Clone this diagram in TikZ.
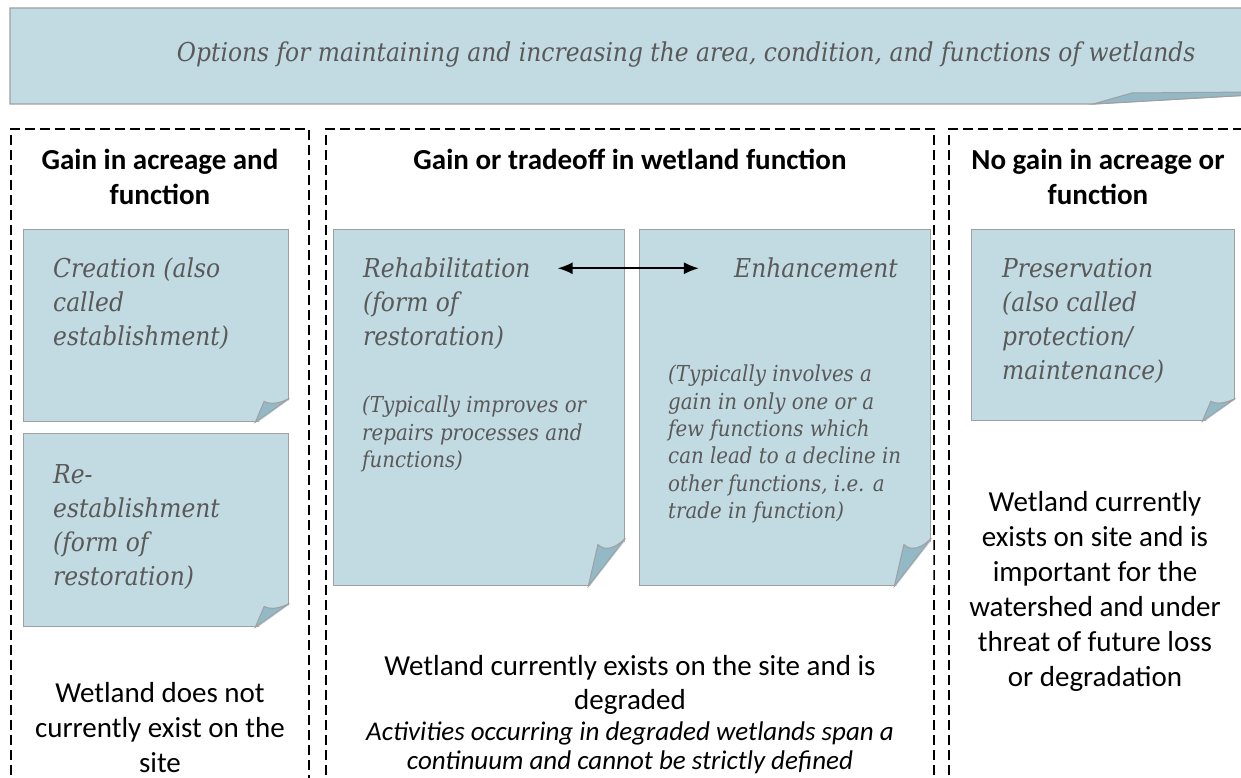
\documentclass[tikz,border=0pt]{standalone}
\usepackage{fontspec}
\setmainfont{Carlito}
\newfontfamily\notefont{DejaVuSerifCondensed-Italic.ttf}
\usetikzlibrary{arrows.meta}
\usetikzlibrary{calc}
\usetikzlibrary{positioning}

\definecolor{noteblue}{RGB}{194,218,225}
\definecolor{flapblue}{RGB}{147,185,198}
\definecolor{edgegray}{RGB}{160,160,160}
\definecolor{notetext}{RGB}{89,89,89}

\tikzset{
  note/.style={draw=edgegray, fill=noteblue, line width=1.3pt, anchor=north west, inner sep=0pt},
  notetitle/.style={anchor=north west, inner sep=0pt, align=left, text=notetext, font=\notefont\fontsize{26}{34}\selectfont},
  notesmall/.style={anchor=north west, inner sep=0pt, align=left, text=notetext, font=\notefont\fontsize{22}{27.3}\selectfont},
  heading/.style={anchor=north, inner sep=0pt, align=center, font=\bfseries\fontsize{29}{35}\selectfont},
  status/.style={anchor=north, inner sep=0pt, align=center, font=\fontsize{29}{35}\selectfont},
  group/.style={draw=black, line width=2pt, dash pattern=on 10pt off 5pt},
}

% turned-up lower right corner of a note: node, fold width, fold height
\newcommand{\curl}[3]{%
  \fill[white] ($(#1.south east)+(2,2)$) -- ($(#1.south east)+(2,-#3)$) -- ($(#1.south east)+(-#2,2)$) -- cycle;
  \filldraw[fill=flapblue, draw=edgegray, line width=1pt]
    ($(#1.south east)+(-#2,0)$) -- ($(#1.south east)+(-0.74*#2,-0.87*#3)$)
    .. controls ($(#1.south east)+(-0.55*#2,-0.72*#3)$) and ($(#1.south east)+(-0.25*#2,-0.8*#3)$)
    .. ($(#1.south east)+(0,-#3)$) -- cycle;
}

\begin{document}
\begin{tikzpicture}[x=1pt, y=-1pt, >={Latex[length=15pt,width=12pt]}]
  \useasboundingbox (0,0) rectangle (1241,778);

  % banner
  \filldraw[fill=noteblue, draw=edgegray, line width=1.3pt]
    (10,8) -- (1250,8) -- (1250,95) -- (1093,104) -- (10,104) -- cycle;
  \filldraw[fill=flapblue, draw=edgegray, line width=1pt]
    (1093,104) -- (1132,93) -- (1250,92) -- (1250,95) -- cycle;
  \node[text=notetext, font=\notefont\fontsize{26}{32}\selectfont] (title) at (686,55)
    {Options for maintaining and increasing the area, condition, and functions of wetlands};

  % dashed groups
  \draw[group] (11,790) -- (11,129) -- (309,129) -- (309,790);
  \draw[group] (326,790) -- (326,129) -- (934,129) -- (934,790);
  \draw[group] (949,790) -- (949,129) -- (1260,129);

  \node[heading] (gainhead)   at (160,149)  {Gain in acreage and\\function};
  \node[heading] (tradehead)  at (630,149)  {Gain or tradeoff in wetland function};
  \node[heading] (nogainhead) at (1098,149) {No gain in acreage or\\function};

  % notes
  \node[note, minimum width=265pt, minimum height=192pt] (creation) at (23,229) {};
  \curl{creation}{34}{24}
  \node[note, minimum width=265pt, minimum height=193pt] (reest) at (23,433) {};
  \curl{reest}{34}{24}
  \node[note, minimum width=291pt, minimum height=356pt] (rehab) at (333,229) {};
  \curl{rehab}{37}{48}
  \node[note, minimum width=291pt, minimum height=356pt] (enh) at (639,229) {};
  \curl{enh}{37}{48}
  \node[note, minimum width=263pt, minimum height=191pt] (pres) at (971,229) {};
  \curl{pres}{33}{23}

  \node[notetitle] (creationT) at (53,258)  {Creation (also\\called\\establishment)};
  \node[notetitle] (reestT)    at (53,464)  {Re-\\establishment\\(form of\\restoration)};
  \node[notetitle] (rehabT)    at (363,258) {Rehabilitation};
  \node[notetitle] (rehabS)    at (363,292) {(form of\\restoration)};
  \node[notetitle, anchor=north east] (enhT) at (898,258) {Enhancement};
  \node[notetitle] (presT)     at (1002,258) {Preservation\\(also called\\protection/\\maintenance)};
  \node[notesmall] (rehabD) at (362,396)
    {(Typically improves or\\repairs processes and\\functions)};
  \node[notesmall] (enhD) at (668,365)
    {(Typically involves a\\gain in only one or a\\few functions which\\can lead to a decline in\\other functions, i.e. a\\trade in function)};

  \draw[<->, line width=2pt] ([xshift=27pt]rehabT.east) -- ([xshift=-35pt]enhT.west);

  % site status
  \node[status] (gainstat)   at (160,682)  {Wetland does not\\currently exist on the\\site};
  \node[status, font=\fontsize{29}{34}\selectfont] (tradestat) at (630,655)
    {Wetland currently exists on the site and is\\degraded};
  \node[status, font=\itshape\fontsize{27}{29}\selectfont] (tradenote) at (630,722)
    {Activities occurring in degraded wetlands span a\\continuum and cannot be strictly defined};
  \node[status] (nogainstat) at (1095,491)
    {Wetland currently\\exists on site and is\\important for the\\watershed and under\\threat of future loss\\or degradation};
\end{tikzpicture}
\end{document}
